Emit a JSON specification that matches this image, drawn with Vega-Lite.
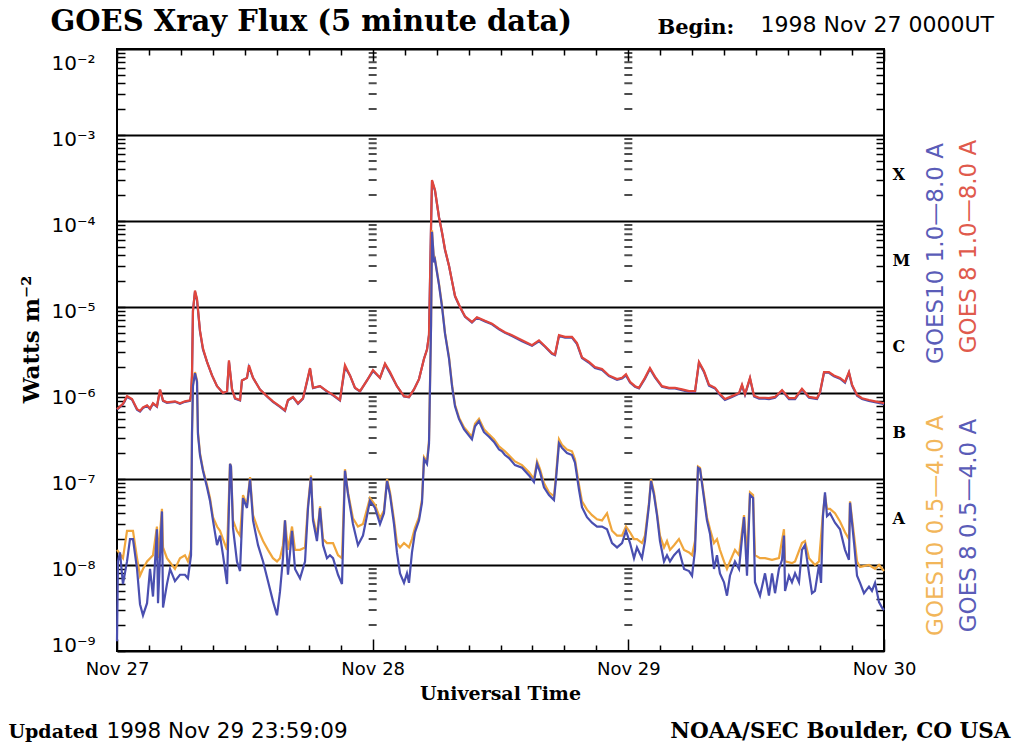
{
"$schema": "https://vega.github.io/schema/vega-lite/v6.json",
"width": 767,
"height": 602,
"autosize": {"type": "none"},
"padding": {"left": 117, "top": 49, "right": 129, "bottom": 95},
"background": "white",
"config": {"view": {"stroke": "black", "strokeWidth": 2}, "axis": {"grid": false, "domain": false}},
"resolve": {"axis": {"x": "independent", "y": "independent"}},
"datasets": {
"minor": [{"v":2e-9},{"v":3e-9},{"v":4e-9},{"v":5e-9},{"v":6e-9},{"v":7e-9},{"v":8e-9},{"v":9e-9},
{"v":2e-8},{"v":3e-8},{"v":4e-8},{"v":5e-8},{"v":6e-8},{"v":7e-8},{"v":8e-8},{"v":9e-8},
{"v":2e-7},{"v":3e-7},{"v":4e-7},{"v":5e-7},{"v":6e-7},{"v":7e-7},{"v":8e-7},{"v":9e-7},
{"v":2e-6},{"v":3e-6},{"v":4e-6},{"v":5e-6},{"v":6e-6},{"v":7e-6},{"v":8e-6},{"v":9e-6},
{"v":2e-5},{"v":3e-5},{"v":4e-5},{"v":5e-5},{"v":6e-5},{"v":7e-5},{"v":8e-5},{"v":9e-5},
{"v":2e-4},{"v":3e-4},{"v":4e-4},{"v":5e-4},{"v":6e-4},{"v":7e-4},{"v":8e-4},{"v":9e-4},
{"v":2e-3},{"v":3e-3},{"v":4e-3},{"v":5e-3},{"v":6e-3},{"v":7e-3},{"v":8e-3},{"v":9e-3}],
"g8long": [
{"h":0,"f":6.5e-7},{"h":0.56,"f":7.5e-7},{"h":0.94,"f":9.2e-7},{"h":1.41,"f":8.5e-7},{"h":1.88,"f":6.5e-7},{"h":2.16,"f":6.2e-7},{"h":2.44,"f":6.8e-7},{"h":2.82,"f":7.2e-7},{"h":3.10,"f":6.6e-7},{"h":3.38,"f":7.6e-7},{"h":3.75,"f":7.0e-7},{"h":4.04,"f":1.1e-6},{"h":4.32,"f":8.2e-7},{"h":4.69,"f":7.8e-7},{"h":5.44,"f":8.0e-7},{"h":5.91,"f":7.6e-7},{"h":6.38,"f":8.0e-7},{"h":6.85,"f":8.2e-7},{"h":6.95,"f":9.5e-7},{"h":7.04,"f":1.6e-6},{"h":7.13,"f":9e-6},{"h":7.32,"f":1.55e-5},{"h":7.51,"f":1.25e-5},{"h":7.79,"f":5.3e-6},{"h":8.07,"f":3.3e-6},{"h":8.45,"f":2.3e-6},{"h":8.92,"f":1.6e-6},{"h":9.39,"f":1.2e-6},{"h":9.95,"f":1.0e-6},{"h":10.33,"f":1.05e-6},{"h":10.51,"f":2.4e-6},{"h":10.80,"f":1.1e-6},{"h":11.08,"f":8.7e-7},{"h":11.55,"f":8.3e-7},{"h":11.73,"f":1.4e-6},{"h":12.20,"f":1.5e-6},{"h":12.39,"f":2.1e-6},{"h":12.77,"f":1.5e-6},{"h":13.42,"f":1.1e-6},{"h":14.08,"f":9.2e-7},{"h":14.64,"f":8e-7},{"h":15.30,"f":7e-7},{"h":15.77,"f":6.3e-7},{"h":16.05,"f":8.3e-7},{"h":16.52,"f":9e-7},{"h":16.99,"f":7.6e-7},{"h":17.46,"f":8.7e-7},{"h":18.12,"f":1.95e-6},{"h":18.40,"f":1.15e-6},{"h":19.06,"f":1.2e-6},{"h":19.71,"f":1.05e-6},{"h":20.28,"f":9.5e-7},{"h":20.93,"f":8.3e-7},{"h":21.40,"f":2.1e-6},{"h":21.87,"f":1.6e-6},{"h":22.34,"f":1.15e-6},{"h":22.81,"f":1.05e-6},{"h":23.47,"f":1.4e-6},{"h":24.03,"f":1.85e-6},{"h":24.69,"f":1.5e-6},{"h":25.16,"f":2.2e-6},{"h":25.63,"f":1.75e-6},{"h":26.28,"f":1.2e-6},{"h":26.94,"f":9.2e-7},{"h":27.41,"f":9e-7},{"h":27.88,"f":1.1e-6},{"h":28.35,"f":1.45e-6},{"h":28.82,"f":2.5e-6},{"h":29.10,"f":3.2e-6},{"h":29.29,"f":4.8e-6},{"h":29.48,"f":8.7e-5},{"h":29.57,"f":3.0e-4},{"h":29.85,"f":2.3e-4},{"h":30.23,"f":1.1e-4},{"h":30.51,"f":7.4e-5},{"h":30.79,"f":4.7e-5},{"h":31.17,"f":3e-5},{"h":31.45,"f":2e-5},{"h":31.73,"f":1.35e-5},{"h":32.20,"f":1e-5},{"h":32.67,"f":7.8e-6},{"h":33.32,"f":6.7e-6},{"h":33.79,"f":7.6e-6},{"h":34.55,"f":6.9e-6},{"h":35.20,"f":6.4e-6},{"h":35.86,"f":5.6e-6},{"h":36.42,"f":5.1e-6},{"h":37.08,"f":4.7e-6},{"h":38.02,"f":4.1e-6},{"h":38.96,"f":3.6e-6},{"h":39.61,"f":4.1e-6},{"h":40.18,"f":3.5e-6},{"h":40.83,"f":2.9e-6},{"h":41.12,"f":2.8e-6},{"h":41.49,"f":4.7e-6},{"h":42.06,"f":4.5e-6},{"h":42.71,"f":4.5e-6},{"h":43.18,"f":3.8e-6},{"h":43.65,"f":2.6e-6},{"h":44.31,"f":2.3e-6},{"h":44.87,"f":2.0e-6},{"h":45.53,"f":1.9e-6},{"h":46.18,"f":1.6e-6},{"h":46.94,"f":1.45e-6},{"h":47.41,"f":1.5e-6},{"h":47.78,"f":1.65e-6},{"h":48.16,"f":1.35e-6},{"h":48.63,"f":1.2e-6},{"h":49.00,"f":1.15e-6},{"h":49.56,"f":1.5e-6},{"h":50.03,"f":1.95e-6},{"h":50.50,"f":1.55e-6},{"h":51.16,"f":1.2e-6},{"h":51.82,"f":1.15e-6},{"h":52.38,"f":1.15e-6},{"h":53.04,"f":1.1e-6},{"h":53.70,"f":1.05e-6},{"h":54.26,"f":1.05e-6},{"h":54.63,"f":2.3e-6},{"h":55.10,"f":1.8e-6},{"h":55.57,"f":1.25e-6},{"h":56.14,"f":1.15e-6},{"h":56.60,"f":9.7e-7},{"h":57.07,"f":8.5e-7},{"h":57.73,"f":9.2e-7},{"h":58.39,"f":1.0e-6},{"h":58.67,"f":1.25e-6},{"h":58.95,"f":9.7e-7},{"h":59.42,"f":1.5e-6},{"h":59.80,"f":9.3e-7},{"h":60.27,"f":8.8e-7},{"h":60.83,"f":8.8e-7},{"h":61.20,"f":8.7e-7},{"h":61.77,"f":9e-7},{"h":62.43,"f":1.08e-6},{"h":63.08,"f":8.7e-7},{"h":63.65,"f":8.7e-7},{"h":64.30,"f":1.12e-6},{"h":64.96,"f":9e-7},{"h":65.71,"f":8.7e-7},{"h":65.99,"f":1.02e-6},{"h":66.37,"f":1.75e-6},{"h":66.83,"f":1.75e-6},{"h":67.30,"f":1.6e-6},{"h":67.87,"f":1.5e-6},{"h":68.34,"f":1.35e-6},{"h":68.71,"f":1.75e-6},{"h":69.00,"f":1.25e-6},{"h":69.47,"f":9.5e-7},{"h":69.94,"f":8.7e-7},{"h":70.59,"f":8.3e-7},{"h":71.16,"f":8e-7},{"h":71.81,"f":7.7e-7},{"h":72,"f":7.6e-7}],
"g10long": [
{"h":0,"f":6.4e-7},{"h":0.56,"f":7.4e-7},{"h":0.94,"f":9.0e-7},{"h":1.41,"f":8.4e-7},{"h":1.88,"f":6.4e-7},{"h":2.16,"f":6.1e-7},{"h":2.44,"f":6.7e-7},{"h":2.82,"f":7.1e-7},{"h":3.10,"f":6.5e-7},{"h":3.38,"f":7.5e-7},{"h":3.75,"f":6.9e-7},{"h":4.04,"f":1.08e-6},{"h":4.32,"f":8.1e-7},{"h":4.69,"f":7.7e-7},{"h":5.44,"f":7.9e-7},{"h":5.91,"f":7.5e-7},{"h":6.38,"f":7.9e-7},{"h":6.85,"f":8.1e-7},{"h":6.95,"f":9.4e-7},{"h":7.04,"f":1.6e-6},{"h":7.13,"f":9e-6},{"h":7.32,"f":1.5e-5},{"h":7.51,"f":1.2e-5},{"h":7.79,"f":5.2e-6},{"h":8.07,"f":3.2e-6},{"h":8.45,"f":2.3e-6},{"h":8.92,"f":1.6e-6},{"h":9.39,"f":1.2e-6},{"h":9.95,"f":1.0e-6},{"h":10.33,"f":1.04e-6},{"h":10.51,"f":2.3e-6},{"h":10.80,"f":1.1e-6},{"h":11.08,"f":8.6e-7},{"h":11.55,"f":8.2e-7},{"h":11.73,"f":1.4e-6},{"h":12.20,"f":1.5e-6},{"h":12.39,"f":2.0e-6},{"h":12.77,"f":1.5e-6},{"h":13.42,"f":1.1e-6},{"h":14.08,"f":9.1e-7},{"h":14.64,"f":7.9e-7},{"h":15.30,"f":6.9e-7},{"h":15.77,"f":6.2e-7},{"h":16.05,"f":8.2e-7},{"h":16.52,"f":8.9e-7},{"h":16.99,"f":7.5e-7},{"h":17.46,"f":8.6e-7},{"h":18.12,"f":1.9e-6},{"h":18.40,"f":1.14e-6},{"h":19.06,"f":1.2e-6},{"h":19.71,"f":1.04e-6},{"h":20.28,"f":9.4e-7},{"h":20.93,"f":8.2e-7},{"h":21.40,"f":2.0e-6},{"h":21.87,"f":1.6e-6},{"h":22.34,"f":1.14e-6},{"h":22.81,"f":1.04e-6},{"h":23.47,"f":1.4e-6},{"h":24.03,"f":1.8e-6},{"h":24.69,"f":1.5e-6},{"h":25.16,"f":2.15e-6},{"h":25.63,"f":1.7e-6},{"h":26.28,"f":1.2e-6},{"h":26.94,"f":9.1e-7},{"h":27.41,"f":8.9e-7},{"h":27.88,"f":1.1e-6},{"h":28.35,"f":1.45e-6},{"h":28.82,"f":2.5e-6},{"h":29.10,"f":3.2e-6},{"h":29.29,"f":4.7e-6},{"h":29.48,"f":8.5e-5},{"h":29.57,"f":2.9e-4},{"h":29.85,"f":2.25e-4},{"h":30.23,"f":1.1e-4},{"h":30.51,"f":7.3e-5},{"h":30.79,"f":4.6e-5},{"h":31.17,"f":3e-5},{"h":31.45,"f":2e-5},{"h":31.73,"f":1.33e-5},{"h":32.20,"f":9.9e-6},{"h":32.67,"f":7.7e-6},{"h":33.32,"f":6.6e-6},{"h":33.79,"f":7.5e-6},{"h":34.55,"f":6.8e-6},{"h":35.20,"f":6.3e-6},{"h":35.86,"f":5.5e-6},{"h":36.42,"f":5.0e-6},{"h":37.08,"f":4.6e-6},{"h":38.02,"f":4.0e-6},{"h":38.96,"f":3.55e-6},{"h":39.61,"f":4.0e-6},{"h":40.18,"f":3.45e-6},{"h":40.83,"f":2.85e-6},{"h":41.12,"f":2.75e-6},{"h":41.49,"f":4.6e-6},{"h":42.06,"f":4.4e-6},{"h":42.71,"f":4.4e-6},{"h":43.18,"f":3.7e-6},{"h":43.65,"f":2.55e-6},{"h":44.31,"f":2.25e-6},{"h":44.87,"f":1.95e-6},{"h":45.53,"f":1.85e-6},{"h":46.18,"f":1.57e-6},{"h":46.94,"f":1.42e-6},{"h":47.41,"f":1.47e-6},{"h":47.78,"f":1.6e-6},{"h":48.16,"f":1.32e-6},{"h":48.63,"f":1.18e-6},{"h":49.00,"f":1.13e-6},{"h":49.56,"f":1.47e-6},{"h":50.03,"f":1.9e-6},{"h":50.50,"f":1.52e-6},{"h":51.16,"f":1.18e-6},{"h":51.82,"f":1.13e-6},{"h":52.38,"f":1.13e-6},{"h":53.04,"f":1.08e-6},{"h":53.70,"f":1.03e-6},{"h":54.26,"f":1.03e-6},{"h":54.63,"f":2.25e-6},{"h":55.10,"f":1.76e-6},{"h":55.57,"f":1.22e-6},{"h":56.14,"f":1.13e-6},{"h":56.60,"f":9.5e-7},{"h":57.07,"f":8.3e-7},{"h":57.73,"f":9.0e-7},{"h":58.39,"f":9.8e-7},{"h":58.67,"f":1.22e-6},{"h":58.95,"f":9.5e-7},{"h":59.42,"f":1.47e-6},{"h":59.80,"f":9.1e-7},{"h":60.27,"f":8.6e-7},{"h":60.83,"f":8.6e-7},{"h":61.20,"f":8.5e-7},{"h":61.77,"f":8.8e-7},{"h":62.43,"f":1.06e-6},{"h":63.08,"f":8.5e-7},{"h":63.65,"f":8.5e-7},{"h":64.30,"f":1.1e-6},{"h":64.96,"f":8.8e-7},{"h":65.71,"f":8.5e-7},{"h":65.99,"f":1.0e-6},{"h":66.37,"f":1.72e-6},{"h":66.83,"f":1.72e-6},{"h":67.30,"f":1.57e-6},{"h":67.87,"f":1.47e-6},{"h":68.34,"f":1.32e-6},{"h":68.71,"f":1.72e-6},{"h":69.00,"f":1.22e-6},{"h":69.47,"f":9.3e-7},{"h":69.94,"f":8.5e-7},{"h":70.59,"f":8.1e-7},{"h":71.16,"f":7.8e-7},{"h":71.81,"f":7.5e-7},{"h":72,"f":7.4e-7}],
"g8short": [
{"h":0,"f":1.3e-9},{"h":0.09,"f":1.1e-8},{"h":0.28,"f":1.4e-8},{"h":0.56,"f":6e-9},{"h":0.94,"f":1.1e-8},{"h":1.22,"f":2e-8},{"h":1.50,"f":2e-8},{"h":1.88,"f":9e-9},{"h":2.16,"f":3.5e-9},{"h":2.44,"f":2.6e-9},{"h":2.82,"f":3.6e-9},{"h":3.10,"f":9e-9},{"h":3.38,"f":4.3e-9},{"h":3.75,"f":2.6e-8},{"h":3.85,"f":3.6e-9},{"h":4.22,"f":4.2e-8},{"h":4.32,"f":3.2e-9},{"h":4.69,"f":6e-9},{"h":4.98,"f":9e-9},{"h":5.44,"f":6.5e-9},{"h":5.91,"f":7.7e-9},{"h":6.38,"f":7.7e-9},{"h":6.66,"f":7e-9},{"h":6.95,"f":1.3e-8},{"h":7.04,"f":3.3e-7},{"h":7.13,"f":1.2e-6},{"h":7.32,"f":1.7e-6},{"h":7.51,"f":1.35e-6},{"h":7.60,"f":3.3e-7},{"h":7.79,"f":1.9e-7},{"h":8.07,"f":1.25e-7},{"h":8.45,"f":8e-8},{"h":8.73,"f":5.6e-8},{"h":9.01,"f":3.3e-8},{"h":9.39,"f":1.7e-8},{"h":9.67,"f":2.2e-8},{"h":9.95,"f":1.3e-8},{"h":10.33,"f":6e-9},{"h":10.61,"f":1.5e-7},{"h":10.70,"f":1.4e-7},{"h":10.89,"f":2.7e-8},{"h":11.26,"f":1.1e-8},{"h":11.55,"f":8.5e-9},{"h":11.83,"f":6e-8},{"h":12.20,"f":4.6e-8},{"h":12.49,"f":1e-7},{"h":12.77,"f":3.3e-8},{"h":13.24,"f":1.7e-8},{"h":13.71,"f":1.1e-8},{"h":14.17,"f":6.5e-9},{"h":14.64,"f":3.8e-9},{"h":15.02,"f":2.6e-9},{"h":15.30,"f":4.9e-9},{"h":15.58,"f":1.2e-8},{"h":15.77,"f":3.3e-8},{"h":16.05,"f":7.7e-9},{"h":16.43,"f":2.5e-8},{"h":16.71,"f":9e-9},{"h":17.18,"f":7e-9},{"h":17.65,"f":1.1e-8},{"h":17.93,"f":4.6e-8},{"h":18.21,"f":1.05e-7},{"h":18.40,"f":3.3e-8},{"h":18.77,"f":1.9e-8},{"h":19.06,"f":4.6e-8},{"h":19.34,"f":1.7e-8},{"h":19.71,"f":1.2e-8},{"h":19.99,"f":1.3e-8},{"h":20.28,"f":1.2e-8},{"h":20.75,"f":7.7e-9},{"h":21.12,"f":6e-9},{"h":21.40,"f":1.25e-7},{"h":21.68,"f":6.7e-8},{"h":22.15,"f":3e-8},{"h":22.62,"f":1.7e-8},{"h":23.09,"f":2.2e-8},{"h":23.75,"f":5.6e-8},{"h":24.22,"f":4.6e-8},{"h":24.69,"f":3e-8},{"h":25.06,"f":4e-8},{"h":25.35,"f":9.5e-8},{"h":25.63,"f":6.5e-8},{"h":26.00,"f":3e-8},{"h":26.28,"f":1.4e-8},{"h":26.57,"f":8e-9},{"h":26.94,"f":6.2e-9},{"h":27.22,"f":8e-9},{"h":27.41,"f":6.2e-9},{"h":27.69,"f":1.4e-8},{"h":27.97,"f":2.4e-8},{"h":28.35,"f":3.3e-8},{"h":28.63,"f":5.3e-8},{"h":28.82,"f":1.7e-7},{"h":29.10,"f":1.5e-7},{"h":29.29,"f":2.6e-7},{"h":29.48,"f":6e-6},{"h":29.57,"f":7.5e-5},{"h":29.76,"f":3.3e-5},{"h":29.85,"f":3.5e-5},{"h":30.23,"f":1.8e-5},{"h":30.51,"f":1e-5},{"h":30.79,"f":4.9e-6},{"h":31.17,"f":2.5e-6},{"h":31.45,"f":1.2e-6},{"h":31.73,"f":7e-7},{"h":32.10,"f":5e-7},{"h":32.57,"f":3.8e-7},{"h":33.04,"f":3.2e-7},{"h":33.32,"f":2.9e-7},{"h":33.61,"f":4.1e-7},{"h":33.98,"f":4.7e-7},{"h":34.45,"f":3.5e-7},{"h":34.92,"f":3.1e-7},{"h":35.39,"f":2.7e-7},{"h":35.86,"f":2.2e-7},{"h":36.14,"f":2.1e-7},{"h":36.42,"f":1.9e-7},{"h":36.80,"f":1.75e-7},{"h":37.36,"f":1.45e-7},{"h":38.02,"f":1.35e-7},{"h":38.68,"f":1.1e-7},{"h":39.14,"f":9.2e-8},{"h":39.43,"f":1.5e-7},{"h":39.71,"f":1.2e-7},{"h":40.08,"f":8e-8},{"h":40.55,"f":6.5e-8},{"h":41.02,"f":5.7e-8},{"h":41.21,"f":1e-7},{"h":41.49,"f":2.6e-7},{"h":41.77,"f":2.3e-7},{"h":42.24,"f":2e-7},{"h":42.71,"f":1.9e-7},{"h":42.99,"f":1.55e-7},{"h":43.37,"f":7.5e-8},{"h":43.65,"f":4.7e-8},{"h":44.12,"f":3.6e-8},{"h":44.59,"f":3.1e-8},{"h":45.06,"f":2.8e-8},{"h":45.53,"f":2.8e-8},{"h":46.00,"f":2.6e-8},{"h":46.47,"f":1.8e-8},{"h":46.94,"f":1.6e-8},{"h":47.41,"f":1.8e-8},{"h":47.78,"f":2.5e-8},{"h":48.16,"f":1.8e-8},{"h":48.53,"f":1.2e-8},{"h":48.81,"f":1.6e-8},{"h":49.28,"f":1.2e-8},{"h":49.56,"f":1.9e-8},{"h":49.94,"f":5e-8},{"h":50.13,"f":9.5e-8},{"h":50.41,"f":6.5e-8},{"h":50.69,"f":3.8e-8},{"h":50.97,"f":1.9e-8},{"h":51.35,"f":1.1e-8},{"h":51.63,"f":1.3e-8},{"h":51.91,"f":1.1e-8},{"h":52.29,"f":1.3e-8},{"h":52.75,"f":1.5e-8},{"h":53.23,"f":9e-9},{"h":53.70,"f":8.5e-9},{"h":53.98,"f":7.5e-9},{"h":54.26,"f":1.5e-8},{"h":54.54,"f":1.35e-7},{"h":54.73,"f":1.3e-7},{"h":55.10,"f":6e-8},{"h":55.38,"f":3.3e-8},{"h":55.67,"f":2.3e-8},{"h":56.04,"f":9e-9},{"h":56.32,"f":1.3e-8},{"h":56.60,"f":8e-9},{"h":56.98,"f":6.3e-9},{"h":57.26,"f":4.4e-9},{"h":57.54,"f":7.5e-9},{"h":58.01,"f":1.1e-8},{"h":58.39,"f":9e-9},{"h":58.86,"f":3.6e-8},{"h":59.14,"f":7.5e-9},{"h":59.42,"f":6.5e-8},{"h":59.71,"f":6e-8},{"h":59.89,"f":6.3e-9},{"h":60.36,"f":4.4e-9},{"h":60.83,"f":8e-9},{"h":61.20,"f":4.4e-9},{"h":61.49,"f":8e-9},{"h":61.77,"f":4.7e-9},{"h":62.14,"f":9e-9},{"h":62.43,"f":1.15e-8},{"h":62.61,"f":2.2e-8},{"h":62.71,"f":5e-9},{"h":63.08,"f":7.5e-9},{"h":63.36,"f":6.3e-9},{"h":63.65,"f":8e-9},{"h":64.02,"f":6.3e-9},{"h":64.30,"f":1.5e-8},{"h":64.58,"f":1.7e-8},{"h":64.96,"f":8e-9},{"h":65.24,"f":4.7e-9},{"h":65.52,"f":5e-9},{"h":65.90,"f":1e-8},{"h":66.09,"f":6.2e-9},{"h":66.27,"f":3.7e-8},{"h":66.46,"f":7e-8},{"h":66.65,"f":3.7e-8},{"h":66.93,"f":4e-8},{"h":67.40,"f":3.1e-8},{"h":67.87,"f":2.6e-8},{"h":68.34,"f":1.5e-8},{"h":68.71,"f":1.15e-8},{"h":68.81,"f":5.3e-8},{"h":69.19,"f":1.8e-8},{"h":69.47,"f":7.5e-9},{"h":69.75,"f":6.2e-9},{"h":70.12,"f":4.7e-9},{"h":70.59,"f":5.6e-9},{"h":70.87,"f":5e-9},{"h":71.16,"f":6.2e-9},{"h":71.53,"f":3.7e-9},{"h":71.81,"f":3.2e-9},{"h":72,"f":3e-9}],
"g10short": [
{"h":0,"f":1.5e-8},{"h":0.56,"f":1.2e-8},{"h":0.94,"f":2.5e-8},{"h":1.50,"f":2.5e-8},{"h":1.88,"f":1.2e-8},{"h":2.16,"f":7.5e-9},{"h":2.44,"f":9e-9},{"h":2.82,"f":1.1e-8},{"h":3.38,"f":1.3e-8},{"h":3.75,"f":2.8e-8},{"h":3.85,"f":1.2e-8},{"h":4.22,"f":4.5e-8},{"h":4.32,"f":1.6e-8},{"h":4.69,"f":1.2e-8},{"h":5.44,"f":9e-9},{"h":5.91,"f":1.2e-8},{"h":6.38,"f":1.3e-8},{"h":6.66,"f":1.1e-8},{"h":6.95,"f":1.5e-8},{"h":7.04,"f":3.5e-7},{"h":7.13,"f":1.25e-6},{"h":7.32,"f":1.75e-6},{"h":7.51,"f":1.4e-6},{"h":7.60,"f":3.5e-7},{"h":7.79,"f":2e-7},{"h":8.07,"f":1.3e-7},{"h":8.45,"f":8.5e-8},{"h":8.73,"f":6e-8},{"h":9.01,"f":3.6e-8},{"h":9.39,"f":2.8e-8},{"h":9.67,"f":2.5e-8},{"h":9.95,"f":2e-8},{"h":10.33,"f":1.5e-8},{"h":10.61,"f":1.5e-7},{"h":10.70,"f":1.4e-7},{"h":10.89,"f":3.3e-8},{"h":11.26,"f":2.5e-8},{"h":11.55,"f":2.2e-8},{"h":11.83,"f":6.5e-8},{"h":12.20,"f":5e-8},{"h":12.49,"f":1.05e-7},{"h":12.77,"f":3.8e-8},{"h":13.24,"f":2.6e-8},{"h":13.71,"f":1.9e-8},{"h":14.17,"f":1.5e-8},{"h":14.64,"f":1.2e-8},{"h":15.02,"f":1.1e-8},{"h":15.30,"f":1.2e-8},{"h":15.58,"f":1.7e-8},{"h":15.77,"f":3.3e-8},{"h":16.05,"f":1.5e-8},{"h":16.43,"f":2.8e-8},{"h":16.71,"f":1.5e-8},{"h":17.18,"f":1.5e-8},{"h":17.65,"f":1.6e-8},{"h":17.93,"f":5e-8},{"h":18.21,"f":1.1e-7},{"h":18.40,"f":3.6e-8},{"h":18.77,"f":2.2e-8},{"h":19.06,"f":4.8e-8},{"h":19.34,"f":2e-8},{"h":19.71,"f":1.8e-8},{"h":20.28,"f":1.8e-8},{"h":20.75,"f":1.3e-8},{"h":21.12,"f":1.2e-8},{"h":21.40,"f":1.3e-7},{"h":21.68,"f":7e-8},{"h":22.15,"f":3.5e-8},{"h":22.62,"f":2.8e-8},{"h":23.09,"f":3e-8},{"h":23.75,"f":6e-8},{"h":24.22,"f":5e-8},{"h":24.69,"f":3.5e-8},{"h":25.06,"f":4.3e-8},{"h":25.35,"f":1e-7},{"h":25.63,"f":7e-8},{"h":26.00,"f":3.4e-8},{"h":26.28,"f":1.8e-8},{"h":26.57,"f":1.6e-8},{"h":26.94,"f":1.8e-8},{"h":27.41,"f":1.6e-8},{"h":27.69,"f":2e-8},{"h":27.97,"f":2.7e-8},{"h":28.35,"f":3.6e-8},{"h":28.63,"f":5.8e-8},{"h":28.82,"f":1.8e-7},{"h":29.10,"f":1.6e-7},{"h":29.29,"f":2.8e-7},{"h":29.48,"f":6.2e-6},{"h":29.57,"f":7.8e-5},{"h":29.76,"f":3.4e-5},{"h":29.85,"f":3.6e-5},{"h":30.23,"f":1.85e-5},{"h":30.51,"f":1.05e-5},{"h":30.79,"f":5e-6},{"h":31.17,"f":2.6e-6},{"h":31.45,"f":1.25e-6},{"h":31.73,"f":7.3e-7},{"h":32.10,"f":5.2e-7},{"h":32.57,"f":4e-7},{"h":33.04,"f":3.4e-7},{"h":33.32,"f":3.1e-7},{"h":33.61,"f":4.4e-7},{"h":33.98,"f":5e-7},{"h":34.45,"f":3.8e-7},{"h":34.92,"f":3.3e-7},{"h":35.39,"f":2.9e-7},{"h":35.86,"f":2.4e-7},{"h":36.42,"f":2.1e-7},{"h":37.36,"f":1.6e-7},{"h":38.02,"f":1.45e-7},{"h":38.68,"f":1.2e-7},{"h":39.14,"f":1e-7},{"h":39.43,"f":1.6e-7},{"h":39.71,"f":1.3e-7},{"h":40.08,"f":9e-8},{"h":40.55,"f":7e-8},{"h":41.02,"f":6.3e-8},{"h":41.21,"f":1.1e-7},{"h":41.49,"f":2.9e-7},{"h":41.77,"f":2.5e-7},{"h":42.24,"f":2.2e-7},{"h":42.71,"f":2.1e-7},{"h":42.99,"f":1.7e-7},{"h":43.37,"f":8.5e-8},{"h":43.65,"f":5.5e-8},{"h":44.12,"f":4.4e-8},{"h":44.59,"f":3.8e-8},{"h":45.06,"f":3.4e-8},{"h":45.53,"f":3.3e-8},{"h":46.00,"f":4e-8},{"h":46.18,"f":3.3e-8},{"h":46.47,"f":2.5e-8},{"h":46.94,"f":2.2e-8},{"h":47.41,"f":2.2e-8},{"h":47.78,"f":2.8e-8},{"h":48.16,"f":2.4e-8},{"h":48.53,"f":2e-8},{"h":48.81,"f":2e-8},{"h":49.28,"f":1.8e-8},{"h":49.56,"f":2.2e-8},{"h":49.94,"f":5.3e-8},{"h":50.13,"f":1e-7},{"h":50.41,"f":7e-8},{"h":50.69,"f":4e-8},{"h":50.97,"f":2.2e-8},{"h":51.35,"f":1.6e-8},{"h":51.63,"f":1.9e-8},{"h":51.91,"f":1.5e-8},{"h":52.29,"f":1.7e-8},{"h":52.75,"f":2e-8},{"h":53.23,"f":1.5e-8},{"h":53.70,"f":1.4e-8},{"h":53.98,"f":1.3e-8},{"h":54.26,"f":1.9e-8},{"h":54.54,"f":1.4e-7},{"h":54.73,"f":1.35e-7},{"h":55.10,"f":6.5e-8},{"h":55.38,"f":3.6e-8},{"h":55.67,"f":2.6e-8},{"h":56.04,"f":1.8e-8},{"h":56.32,"f":2e-8},{"h":56.60,"f":1.5e-8},{"h":56.98,"f":1.1e-8},{"h":57.26,"f":9e-9},{"h":57.54,"f":1.1e-8},{"h":58.01,"f":1.5e-8},{"h":58.39,"f":1.3e-8},{"h":58.86,"f":3.8e-8},{"h":59.14,"f":1.3e-8},{"h":59.42,"f":7e-8},{"h":59.71,"f":6.5e-8},{"h":59.89,"f":1.3e-8},{"h":60.36,"f":1.2e-8},{"h":60.83,"f":1.2e-8},{"h":61.49,"f":1.15e-8},{"h":62.14,"f":1.2e-8},{"h":62.61,"f":2.6e-8},{"h":62.71,"f":1.1e-8},{"h":63.36,"f":1.05e-8},{"h":63.65,"f":1.1e-8},{"h":64.30,"f":1.8e-8},{"h":64.58,"f":1.9e-8},{"h":64.96,"f":1.2e-8},{"h":65.52,"f":1e-8},{"h":65.90,"f":1.1e-8},{"h":66.27,"f":4e-8},{"h":66.46,"f":6.5e-8},{"h":66.65,"f":4.5e-8},{"h":66.93,"f":4.5e-8},{"h":67.40,"f":4e-8},{"h":67.87,"f":3.2e-8},{"h":68.34,"f":2.4e-8},{"h":68.71,"f":2e-8},{"h":68.81,"f":5.5e-8},{"h":69.19,"f":2.2e-8},{"h":69.47,"f":1.1e-8},{"h":69.75,"f":9.5e-9},{"h":70.59,"f":1e-8},{"h":71.16,"f":9e-9},{"h":71.53,"f":1e-8},{"h":72,"f":8.5e-9}]
},
"layer": [
{
"data": {"name": "minor"},
"mark": {"type": "tick", "orient": "horizontal", "size": 8, "thickness": 2, "color": "black"},
"encoding": {
"x": {"datum": 24, "type": "quantitative", "scale": {"domain": [0, 72], "nice": false, "zero": false},
"axis": {"orient": "bottom", "values": [0,3,6,9,12,15,18,21,24,27,30,33,36,39,42,45,48,51,54,57,60,63,66,69,72], "domain": false, "grid": false, "tickColor": "black", "tickWidth": 1.5, "tickSize": {"condition": {"test": "datum.value % 24 === 0", "value": -12}, "value": -6}, "labelExpr": "datum.value % 24 === 0 ? 'Nov ' + (27 + datum.value / 24) : ''", "labelFont": "DejaVu Sans", "labelFontSize": 18, "labelColor": "black", "labelPadding": 21, "labelOverlap": false, "labelFlush": false, "title": "Universal Time", "titleFont": "DejaVu Serif", "titleFontWeight": "bold", "titleFontSize": 19, "titleColor": "black", "titleX": 383, "titleY": 42, "titleAlign": "center", "titleBaseline": "middle"}},
"y": {"field": "v", "type": "quantitative", "scale": {"type": "log", "domain": [1e-9, 1e-2], "nice": false},
"axis": {"orient": "left", "values": [1e-9,2e-9,3e-9,4e-9,5e-9,6e-9,7e-9,8e-9,9e-9,1e-8,2e-8,3e-8,4e-8,5e-8,6e-8,7e-8,8e-8,9e-8,1e-7,2e-7,3e-7,4e-7,5e-7,6e-7,7e-7,8e-7,9e-7,1e-6,2e-6,3e-6,4e-6,5e-6,6e-6,7e-6,8e-6,9e-6,1e-5,2e-5,3e-5,4e-5,5e-5,6e-5,7e-5,8e-5,9e-5,1e-4,2e-4,3e-4,4e-4,5e-4,6e-4,7e-4,8e-4,9e-4,1e-3,2e-3,3e-3,4e-3,5e-3,6e-3,7e-3,8e-3,9e-3,1e-2], "domain": false, "tickColor": "black", "tickWidth": 1.5, "tickSize": -8, "grid": true, "gridColor": "black", "gridWidth": 1.8, "gridOpacity": {"condition": {"test": "abs(log(datum.value)/LN10 - round(log(datum.value)/LN10)) < 0.001", "value": 1}, "value": 0}, "labelExpr": "abs(log(datum.value)/LN10 - round(log(datum.value)/LN10)) < 0.001 ? '10⁻' + ['⁰','¹','²','³','⁴','⁵','⁶','⁷','⁸','⁹'][-round(log(datum.value)/LN10)] : ''", "labelFont": "DejaVu Sans", "labelFontSize": 20, "labelColor": "black", "labelPadding": 30, "labelOverlap": false, "labelOffset": 4, "labelFlush": true, "labelFlushOffset": 0, "title": "Watts m⁻²", "titleFont": "DejaVu Serif", "titleFontWeight": "bold", "titleFontSize": 23, "titleColor": "black", "titleAngle": 270, "titleX": -86, "titleY": 290, "titleAlign": "center", "titleBaseline": "middle"}}
}
},
{
"data": {"name": "minor"},
"mark": {"type": "tick", "orient": "horizontal", "size": 8, "thickness": 2, "color": "black"},
"encoding": {
"x": {"datum": 48, "type": "quantitative", "scale": {"domain": [0, 72], "nice": false, "zero": false},
"axis": {"orient": "top", "values": [0,3,6,9,12,15,18,21,24,27,30,33,36,39,42,45,48,51,54,57,60,63,66,69,72], "domain": false, "grid": false, "tickColor": "black", "tickWidth": 1.5, "tickSize": {"condition": {"test": "datum.value % 24 === 0", "value": -12}, "value": -6}, "labels": false, "title": "Begin:", "titleFont": "DejaVu Serif", "titleFontWeight": "bold", "titleFontSize": 21, "titleColor": "black", "titleX": 540, "titleY": -16, "titleAlign": "left", "titleBaseline": "alphabetic"}},
"y": {"field": "v", "type": "quantitative", "scale": {"type": "log", "domain": [1e-9, 1e-2], "nice": false},
"axis": {"orient": "right", "values": [2e-9,3e-9,4e-9,5e-9,6e-9,7e-9,8e-9,9e-9,2e-8,3e-8,4e-8,5e-8,6e-8,7e-8,8e-8,9e-8,2e-7,3e-7,4e-7,5e-7,6e-7,7e-7,8e-7,9e-7,2e-6,3e-6,4e-6,5e-6,6e-6,7e-6,8e-6,9e-6,2e-5,3e-5,4e-5,5e-5,6e-5,7e-5,8e-5,9e-5,2e-4,3e-4,4e-4,5e-4,6e-4,7e-4,8e-4,9e-4,2e-3,3e-3,4e-3,5e-3,6e-3,7e-3,8e-3,9e-3,3.5e-4,3.5e-5,3.5e-6,3.5e-7,3.5e-8], "domain": false, "grid": false, "tickColor": "black", "tickWidth": 1.5, "tickSize": -8, "tickOpacity": {"condition": {"test": "indexof([3.5e-4,3.5e-5,3.5e-6,3.5e-7,3.5e-8], datum.value) >= 0", "value": 0}, "value": 1}, "labelExpr": "datum.value === 3.5e-4 ? 'X' : datum.value === 3.5e-5 ? 'M' : datum.value === 3.5e-6 ? 'C' : datum.value === 3.5e-7 ? 'B' : datum.value === 3.5e-8 ? 'A' : ''", "labelFont": "DejaVu Serif", "labelFontWeight": "bold", "labelFontSize": 16, "labelColor": "black", "labelPadding": 16, "labelOverlap": false, "labelBaseline": "middle", "labelFlush": false, "title": "GOES Xray Flux (5 minute data)", "titleFont": "DejaVu Serif", "titleFontWeight": "bold", "titleFontSize": 29, "titleColor": "black", "titleAngle": 0, "titleX": -834, "titleY": -19, "titleAlign": "left", "titleBaseline": "alphabetic"}}
}
},
{
"data": {"name": "g10long"},
"mark": {"type": "line", "color": "#4a4fb0", "strokeWidth": 2.2},
"encoding": {
"x": {"field": "h", "type": "quantitative", "scale": {"domain": [0, 72], "nice": false, "zero": false},
"axis": {"orient": "bottom", "ticks": false, "labels": false, "domain": false, "grid": false, "title": "1998 Nov 27 0000UT", "titleFont": "DejaVu Sans", "titleFontWeight": "normal", "titleFontSize": 22, "titleColor": "black", "titleX": 643, "titleY": -620, "titleAlign": "left", "titleBaseline": "alphabetic"}},
"y": {"field": "f", "type": "quantitative", "scale": {"type": "log", "domain": [1e-9, 1e-2], "nice": false},
"axis": {"orient": "right", "ticks": false, "labels": false, "domain": false, "grid": false, "title": "GOES10 1.0—8.0 A", "titleFont": "DejaVu Sans", "titleFontWeight": "normal", "titleFontSize": 23, "titleColor": "#5a5cb8", "titleAngle": 270, "titleX": 51, "titleY": 204, "titleAlign": "center", "titleBaseline": "middle"}}
}
},
{
"data": {"name": "g8long"},
"mark": {"type": "line", "color": "#e0463c", "strokeWidth": 2.2},
"encoding": {
"x": {"field": "h", "type": "quantitative", "scale": {"domain": [0, 72], "nice": false, "zero": false},
"axis": {"orient": "bottom", "ticks": false, "labels": false, "domain": false, "grid": false, "title": "Updated", "titleFont": "DejaVu Serif", "titleFontWeight": "bold", "titleFontSize": 19, "titleColor": "black", "titleX": -109, "titleY": 86, "titleAlign": "left", "titleBaseline": "alphabetic"}},
"y": {"field": "f", "type": "quantitative", "scale": {"type": "log", "domain": [1e-9, 1e-2], "nice": false},
"axis": {"orient": "right", "ticks": false, "labels": false, "domain": false, "grid": false, "title": "GOES 8 1.0—8.0 A", "titleFont": "DejaVu Sans", "titleFontWeight": "normal", "titleFontSize": 23, "titleColor": "#e05a4c", "titleAngle": 270, "titleX": 84, "titleY": 197, "titleAlign": "center", "titleBaseline": "middle"}}
}
},
{
"data": {"name": "g10short"},
"mark": {"type": "line", "color": "#f0a63c", "strokeWidth": 2.2},
"encoding": {
"x": {"field": "h", "type": "quantitative", "scale": {"domain": [0, 72], "nice": false, "zero": false},
"axis": {"orient": "bottom", "ticks": false, "labels": false, "domain": false, "grid": false, "title": "1998 Nov 29 23:59:09", "titleFont": "DejaVu Sans", "titleFontWeight": "normal", "titleFontSize": 21.5, "titleColor": "black", "titleX": -11, "titleY": 86, "titleAlign": "left", "titleBaseline": "alphabetic"}},
"y": {"field": "f", "type": "quantitative", "scale": {"type": "log", "domain": [1e-9, 1e-2], "nice": false},
"axis": {"orient": "right", "ticks": false, "labels": false, "domain": false, "grid": false, "title": "GOES10 0.5—4.0 A", "titleFont": "DejaVu Sans", "titleFontWeight": "normal", "titleFontSize": 23, "titleColor": "#f2b65a", "titleAngle": 270, "titleX": 51, "titleY": 476, "titleAlign": "center", "titleBaseline": "middle"}}
}
},
{
"data": {"name": "g8short"},
"mark": {"type": "line", "color": "#4a4fb0", "strokeWidth": 2.2},
"encoding": {
"x": {"field": "h", "type": "quantitative", "scale": {"domain": [0, 72], "nice": false, "zero": false},
"axis": {"orient": "bottom", "ticks": false, "labels": false, "domain": false, "grid": false, "title": "NOAA/SEC Boulder, CO USA", "titleFont": "DejaVu Serif", "titleFontWeight": "bold", "titleFontSize": 21.5, "titleColor": "black", "titleX": 893, "titleY": 86, "titleAlign": "right", "titleBaseline": "alphabetic"}},
"y": {"field": "f", "type": "quantitative", "scale": {"type": "log", "domain": [1e-9, 1e-2], "nice": false},
"axis": {"orient": "right", "ticks": false, "labels": false, "domain": false, "grid": false, "title": "GOES 8 0.5—4.0 A", "titleFont": "DejaVu Sans", "titleFontWeight": "normal", "titleFontSize": 23, "titleColor": "#5a5cb8", "titleAngle": 270, "titleX": 84, "titleY": 476, "titleAlign": "center", "titleBaseline": "middle"}}
}
}
]
}
